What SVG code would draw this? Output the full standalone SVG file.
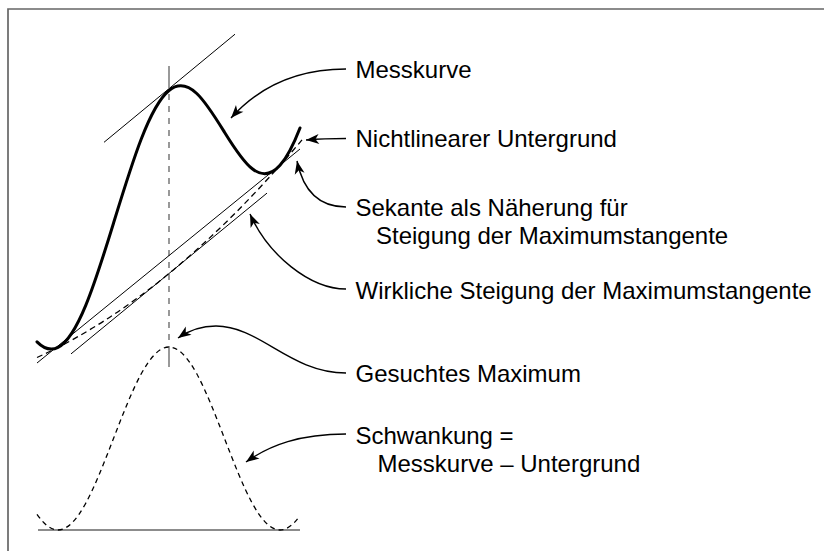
<svg xmlns="http://www.w3.org/2000/svg" width="824" height="551" viewBox="0 0 824 551">
  <style>
    .frame { fill: none; stroke: #666; stroke-width: 1.7; }
    .curve { fill: none; stroke: #000; stroke-width: 3; stroke-linejoin: round; stroke-linecap: round; }
    .thin { fill: none; stroke: #000; stroke-width: 1; }
    .dash { fill: none; stroke: #000; stroke-width: 1.3; stroke-dasharray: 6 4; }
    .fine-dash { fill: none; stroke: #000; stroke-width: 1.3; stroke-dasharray: 5 4; }
    .axis { fill: none; stroke: #555; stroke-width: 1.2; }
    .axis-dash { fill: none; stroke: #555; stroke-width: 1.2; stroke-dasharray: 6 6; }
    .base { fill: none; stroke: #666; stroke-width: 1.6; }
    .leader { fill: none; stroke: #000; stroke-width: 1.4; marker-end: url(#head); }
    .label { font-family: "Liberation Sans", Arial, Helvetica, sans-serif; font-size: 24px; fill: #000; }
  </style>
  <defs>
    <marker id="head" viewBox="-14 -6 15 12" refX="0" refY="0" markerWidth="15" markerHeight="12" markerUnits="userSpaceOnUse" orient="auto">
      <path d="M0,0 L-13,-5 L-9.5,0 L-13,5 Z" fill="#000"/>
    </marker>
  </defs>

  <rect width="824" height="551" fill="#fff"/>
  <path class="frame" d="M8,551 V9 H824"/>

  <!-- measured signal, background, slopes -->
  <g id="plot">
    <!-- tangent at the maximum -->
    <line class="thin" x1="104" y1="142.3" x2="235" y2="34.2"/>
    <!-- vertical marker through the maximum -->
    <line class="axis" x1="169" y1="66" x2="169" y2="88"/>
    <line class="axis-dash" x1="169" y1="94" x2="169" y2="347"/>
    <line class="axis" x1="169" y1="347" x2="169" y2="367"/>
    <!-- secant through the two minima -->
    <line class="thin" x1="37" y1="363" x2="300" y2="149"/>
    <!-- true slope: tangent to the background at the maximum -->
    <line class="thin" x1="71" y1="353.9" x2="267" y2="193.1"/>
    <!-- nonlinear background -->
    <path class="dash" d="M37,357.5 Q169.5,297.5 302,139.9"/>
    <!-- measured curve -->
    <path class="curve" d="M37,341.83 C44,348.81 51,350.97 58,347.39 C67.25,342.66 76.5,327.73 85.75,305.34 C95,282.96 104.25,253.35 113.5,223.23 C122.75,193.11 132,162.79 141.25,138.98 C150.5,115.17 159.75,98.09 169,90.5 C178.25,82.92 187.5,84.84 196.75,93.48 C206,102.11 215.25,117.26 224.5,132.21 C233.75,147.16 243,161.59 252.25,168.8 C261.5,176.02 270.75,175.79 280,165.35 C286.67,157.82 293.33,145.11 300,127.96"/>
  </g>

  <!-- fluctuation = measured curve minus background -->
  <g id="fluctuation">
    <line class="base" x1="38" y1="530" x2="300" y2="530"/>
    <path class="fine-dash" d="M37,514.31 C44,524.46 51,530 58,530 C67.25,530 76.5,520.14 85.75,503.2 C95,486.26 104.25,462.46 113.5,438.5 C122.75,414.54 132,390.74 141.25,373.8 C150.5,356.86 159.75,347 169,347 C178.25,347 187.5,356.86 196.75,373.8 C206,390.74 215.25,414.54 224.5,438.5 C233.75,462.46 243,486.26 252.25,503.2 C261.5,520.14 270.75,530 280,530 C286.67,530 293.33,524.99 300,515.73"/>
  </g>

  <!-- labels -->
  <g id="label-messkurve"><text class="label" x="355.5" y="78">Messkurve</text></g>
  <g id="label-untergrund"><text class="label" x="355.5" y="147">Nichtlinearer Untergrund</text></g>
  <g id="label-sekante">
    <text class="label" x="355.5" y="216">Sekante als Näherung für</text>
    <text class="label" x="376" y="244">Steigung der Maximumstangente</text>
  </g>
  <g id="label-wirklich"><text class="label" x="355.5" y="298.5">Wirkliche Steigung der Maximumstangente</text></g>
  <g id="label-maximum"><text class="label" x="355.5" y="382">Gesuchtes Maximum</text></g>
  <g id="label-schwankung">
    <text class="label" x="355.5" y="444">Schwankung =</text>
    <text class="label" x="377.5" y="472">Messkurve – Untergrund</text>
  </g>

  <!-- leader arrows from labels to the plot -->
  <g id="connectors">
    <path class="leader" d="M346,69 C295,69 258,88 231,118"/>
    <path class="leader" d="M346,138.5 C330,138.5 318,139 306,140"/>
    <path class="leader" d="M346,207 C318,207 303,190 297,161"/>
    <path class="leader" d="M346,289 C310,289 268,255 250,214"/>
    <path class="leader" d="M346,373 C290,373 260,326 216,326 C200,326 188,331 178,338"/>
    <path class="leader" d="M346,434 C300,434 270,445 246,462"/>
  </g>
</svg>
